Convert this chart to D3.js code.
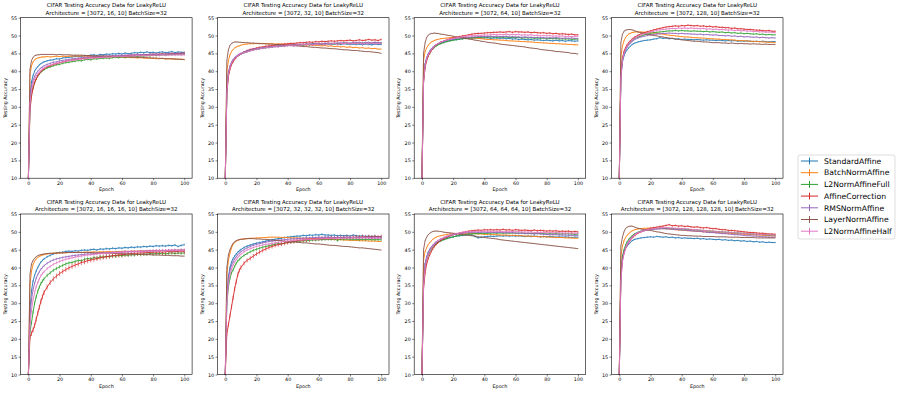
<!DOCTYPE html>
<html>
<head>
<meta charset="utf-8">
<script src="https://cdn.jsdelivr.net/npm/d3@7"></script>
<style>
  body { margin: 0; background: #fff; }
  svg text { font-family: "DejaVu Sans", sans-serif; fill: #000; }
</style>
</head>
<body>
<div id="chart"></div>
<script>
const seriesNames = ['StandardAffine', 'BatchNormAffine', 'L2NormAffineFull', 'AffineCorrection', 'RMSNormAffine', 'LayerNormAffine', 'L2NormAffineHalf']
const colors = ['#1f77b4', '#ff7f0e', '#2ca02c', '#d62728', '#9467bd', '#8c564b', '#e377c2']

const epochs = [0,1,2,3,4,5,6,7,8,9,10,12,14,16,18,20,22,24,26,28,30,32,34,36,38,40,42,44,46,48,50,52,54,56,58,60,62,64,66,68,70,72,74,76,78,80,82,84,86,88,90,92,94,96,98,100]
const xTicks = [0, 20, 40, 60, 80, 100]
const yTicks = [10, 15, 20, 25, 30, 35, 40, 45, 50, 55]

// rows follow seriesNames order
const acc_16_10 = [
  [10,33,37,38.8,40,40.8,41.2,41.8,42.1,42.4,42.6, 42.9,43.1,43.2,43.5,43.4,43.7,43.8,43.9,44.0, 44.1,44.2,44.0,44.4,44.3,44.5,44.6,44.4,44.7, 44.6,44.8,44.7,44.9,44.8,45.0,44.8,45.1,44.9, 45.0,45.2,45.1,45.3,45.2,45.4,45.2,45.3,45.1, 45.3,45.4,45.2,45.3,45.5,45.2,45.4,45.3,45.3],
  [10,39,41.5,42.6,43.2,43.5,43.7,43.8,43.9,44.0,44.0, 44.1,44.0,44.1,44.2,44.1,44.2,44.1,44.2,44.2, 44.3,44.2,44.3,44.2,44.2,44.1,44.2,44.1,44.1, 44.0,44.1,44.0,43.9,44.0,43.9,43.9,43.8,43.9, 43.8,43.8,43.7,43.8,43.7,43.6,43.7,43.6,43.5, 43.5,43.6,43.4,43.5,43.4,43.4,43.3,43.4,43.2],
  [10,30,33.5,35.5,36.8,37.8,38.6,39.2,39.7,40.1,40.4, 40.9,41.2,41.5,41.8,41.9,42.2,42.4,42.5,42.7, 42.8,43.0,42.9,43.2,43.3,43.2,43.5,43.4,43.6, 43.6,43.7,43.6,43.8,43.9,43.8,44.0,43.9,44.1, 44.0,44.2,44.1,44.3,44.2,44.4,44.3,44.5,44.4, 44.5,44.6,44.5,44.7,44.6,44.8,44.7,44.8,44.8],
  [10,29,33,35.2,36.8,37.8,38.7,39.3,39.9,40.3,40.6, 41.2,41.5,41.9,42.1,42.4,42.6,42.8,43.0,43.1, 43.3,43.4,43.5,43.6,43.7,43.8,43.8,43.9,44.0, 44.0,44.1,44.1,44.2,44.2,44.3,44.3,44.4,44.4, 44.5,44.5,44.6,44.5,44.7,44.6,44.7,44.8,44.7, 44.8,44.9,44.8,44.9,45.0,44.9,45.0,45.0,45.1],
  [10,32,35.8,37.5,38.6,39.4,40.0,40.5,40.9,41.2,41.5, 41.9,42.2,42.5,42.6,42.9,43.0,43.2,43.3,43.5, 43.5,43.7,43.7,43.9,43.9,44.0,44.1,44.0,44.2, 44.2,44.3,44.2,44.4,44.3,44.5,44.4,44.5,44.5, 44.6,44.5,44.7,44.6,44.7,44.6,44.8,44.7,44.8, 44.7,44.8,44.8,44.9,44.8,44.9,44.8,44.9,44.8],
  [10,40.5,43.0,43.9,44.3,44.5,44.6,44.6,44.7,44.7,44.7, 44.7,44.7,44.7,44.6,44.7,44.6,44.6,44.6,44.5, 44.5,44.5,44.5,44.4,44.4,44.4,44.3,44.3,44.3, 44.3,44.2,44.2,44.2,44.1,44.1,44.1,44.0,44.0, 44.0,43.9,43.9,43.9,43.8,43.8,43.7,43.7,43.7, 43.6,43.6,43.5,43.5,43.5,43.4,43.4,43.3,43.3],
  [10,31,34.8,36.6,37.8,38.6,39.3,39.8,40.2,40.6,40.9, 41.4,41.7,42.0,42.2,42.4,42.6,42.8,43.0,43.0, 43.2,43.3,43.4,43.5,43.5,43.7,43.7,43.8,43.8, 43.9,44.0,43.9,44.1,44.0,44.2,44.1,44.2,44.2, 44.3,44.2,44.4,44.3,44.4,44.3,44.5,44.4,44.5, 44.4,44.6,44.5,44.5,44.6,44.5,44.6,44.5,44.6]
]
const acc_32_10 = [
  [10,35,39.5,41.2,42.3,43.0,43.6,44.0,44.3,44.6,44.8, 45.2,45.5,45.8,46.0,46.2,46.3,46.5,46.6,46.7, 46.8,46.9,47.0,47.0,47.1,47.2,47.2,47.3,47.3, 47.4,47.3,47.5,47.4,47.6,47.5,47.6,47.5,47.7, 47.6,47.5,47.7,47.6,47.5,47.7,47.6,47.5,47.6, 47.5,47.6,47.4,47.6,47.5,47.4,47.6,47.5,47.5],
  [10,40,43.0,44.6,45.5,46.1,46.5,46.8,47.0,47.1,47.3, 47.5,47.6,47.7,47.7,47.8,47.7,47.8,47.7,47.7, 47.7,47.6,47.7,47.6,47.6,47.5,47.6,47.5,47.5, 47.4,47.4,47.3,47.4,47.2,47.3,47.2,47.1,47.2, 47.0,47.1,46.9,47.0,46.8,46.9,46.7,46.8,46.6, 46.7,46.5,46.6,46.4,46.5,46.3,46.4,46.2,46.2],
  [10,34,39.0,41.0,42.1,42.9,43.5,43.9,44.3,44.6,44.8, 45.2,45.5,45.8,46.0,46.2,46.3,46.5,46.6,46.8, 46.8,47.0,47.0,47.1,47.2,47.2,47.3,47.4,47.3, 47.5,47.4,47.6,47.5,47.7,47.6,47.5,47.7,47.6, 47.8,47.7,47.6,47.8,47.7,47.9,47.8,47.7,47.9, 47.8,47.9,47.8,48.0,47.8,47.9,48.0,47.9,47.9],
  [10,34,38.5,40.5,41.8,42.6,43.3,43.8,44.2,44.6,44.9, 45.4,45.8,46.1,46.3,46.5,46.7,46.8,47.0,47.1, 47.2,47.3,47.4,47.5,47.6,47.7,47.8,47.8,47.9, 48.0,48.0,48.1,48.2,48.1,48.3,48.2,48.4,48.3, 48.4,48.5,48.4,48.5,48.6,48.5,48.6,48.7,48.5, 48.6,48.8,48.6,48.7,48.9,48.7,48.8,48.6,48.9],
  [10,35,39.8,41.5,42.6,43.3,43.8,44.2,44.5,44.8,45.0, 45.4,45.7,45.9,46.2,46.3,46.5,46.6,46.7,46.8, 46.9,47.0,47.1,47.2,47.2,47.3,47.4,47.4,47.5, 47.5,47.6,47.6,47.7,47.7,47.8,47.7,47.8,47.8, 47.9,47.8,47.9,47.9,48.0,47.9,48.0,47.9,48.0, 48.0,48.1,47.9,48.0,48.1,48.0,48.1,48.0,48.0],
  [10,43,46.0,47.2,47.8,48.0,48.2,48.2,48.2,48.1,48.1, 48.0,48.0,47.9,47.9,47.8,47.8,47.7,47.7,47.6, 47.6,47.5,47.5,47.4,47.3,47.3,47.2,47.1,47.1, 47.0,46.9,46.9,46.8,46.7,46.7,46.6,46.5,46.5, 46.4,46.3,46.3,46.2,46.1,46.0,46.0,45.9,45.8, 45.8,45.7,45.6,45.5,45.5,45.4,45.3,45.2,45.0],
  [10,34,39.0,41.0,42.2,43.0,43.5,44.0,44.3,44.6,44.8, 45.2,45.4,45.7,45.9,46.1,46.3,46.4,46.6,46.6, 46.8,46.9,46.8,47.1,47.0,47.2,47.3,47.1,47.4, 47.3,47.5,47.4,47.6,47.3,47.6,47.5,47.7,47.4, 47.7,47.6,47.8,47.5,47.8,47.7,47.9,47.6,47.8, 47.7,47.9,47.6,47.8,47.7,47.9,47.7,47.8,47.8]
]
const acc_64_10 = [
  [10,38,42.0,43.8,44.8,45.6,46.2,46.6,47.0,47.3,47.5, 47.9,48.2,48.4,48.6,48.8,48.9,49.0,49.1,49.2, 49.3,49.2,49.4,49.3,49.4,49.3,49.4,49.2,49.3, 49.3,49.2,49.3,49.1,49.2,49.0,49.1,48.9,49.0, 48.9,48.8,48.9,48.7,48.8,48.7,48.6,48.7,48.6, 48.5,48.7,48.5,48.6,48.4,48.6,48.5,48.4,48.5],
  [10,43,45.5,46.6,47.3,47.8,48.2,48.4,48.6,48.8,48.9, 49.1,49.2,49.3,49.4,49.5,49.5,49.5,49.5,49.4, 49.4,49.3,49.3,49.2,49.1,49.0,48.9,48.9,48.8, 48.8,48.7,48.7,48.6,48.5,48.5,48.4,48.4,48.3, 48.3,48.2,48.2,48.1,48.0,48.0,47.9,47.9,47.8, 47.8,47.7,47.7,47.6,47.6,47.5,47.5,47.4,47.4],
  [10,37,41.5,43.3,44.4,45.2,45.8,46.3,46.7,47.0,47.3, 47.7,48.0,48.3,48.5,48.7,48.8,49.0,49.1,49.2, 49.3,49.4,49.4,49.5,49.5,49.6,49.5,49.6,49.6, 49.5,49.6,49.5,49.6,49.4,49.5,49.4,49.5,49.3, 49.4,49.3,49.4,49.2,49.3,49.2,49.3,49.1,49.2, 49.1,49.2,49.0,49.1,49.0,49.1,48.9,49.0,49.0],
  [10,37,41.0,43.0,44.2,45.0,45.8,46.4,46.9,47.3,47.6, 48.1,48.5,48.8,49.1,49.3,49.5,49.7,49.9,50.0, 50.2,50.4,50.5,50.6,50.6,50.7,50.8,50.8,50.9, 50.9,51.0,50.9,51.0,51.1,50.9,51.1,51.0,51.0, 50.9,51.0,50.8,50.9,50.8,50.7,50.8,50.6,50.7, 50.5,50.6,50.4,50.5,50.4,50.3,50.4,50.2,50.2],
  [10,38,42.0,43.8,44.8,45.6,46.2,46.7,47.1,47.4,47.7, 48.1,48.4,48.7,48.9,49.0,49.2,49.3,49.4,49.5, 49.5,49.6,49.6,49.7,49.7,49.8,49.7,49.8,49.7, 49.8,49.7,49.7,49.8,49.6,49.7,49.6,49.6,49.5, 49.6,49.5,49.5,49.4,49.5,49.4,49.4,49.3,49.4, 49.3,49.4,49.3,49.2,49.3,49.2,49.3,49.2,49.2],
  [10,45,48.0,49.5,50.1,50.4,50.6,50.6,50.7,50.6,50.6, 50.4,50.3,50.1,50.0,49.8,49.6,49.5,49.3,49.2, 49.0,48.9,48.7,48.6,48.4,48.3,48.1,48.0,47.9, 47.8,47.6,47.5,47.4,47.3,47.2,47.1,47.0,46.9, 46.8,46.6,46.5,46.4,46.3,46.1,46.0,45.9,45.8, 45.7,45.5,45.5,45.4,45.3,45.2,45.0,45.0,44.8],
  [10,37,41.5,43.5,44.6,45.4,46.0,46.6,47.0,47.4,47.7, 48.1,48.5,48.8,49.0,49.2,49.4,49.5,49.7,49.8, 49.9,50.0,49.9,50.1,50.0,50.2,50.1,50.2,50.3, 50.2,50.3,50.2,50.4,50.2,50.3,50.2,50.3,50.1, 50.2,50.1,50.2,50.0,50.1,49.9,50.0,49.9,50.0, 49.8,49.9,49.8,49.9,49.7,49.8,49.7,49.8,49.8]
]
const acc_128_10 = [
  [10,38,42.5,44.3,45.3,46.0,46.5,47.0,47.4,47.7,47.9, 48.2,48.4,48.6,48.7,48.8,49.0,49.1,49.4,49.2, 49.3,49.1,49.2,49.0,49.1,48.9,49.0,48.9,48.9, 48.8,48.9,48.8,48.7,48.8,48.7,48.7,48.6,48.7, 48.6,48.5,48.6,48.5,48.6,48.4,48.5,48.4,48.5, 48.4,48.3,48.4,48.3,48.4,48.3,48.2,48.3,48.3],
  [10,44,47.0,48.5,49.4,50.0,50.4,50.6,50.8,50.9,51.0, 51.0,51.0,50.9,50.9,50.8,50.7,50.6,50.5,50.4, 50.2,50.1,50.0,49.9,49.8,49.7,49.6,49.6,49.5, 49.4,49.4,49.3,49.3,49.2,49.1,49.1,49.0,49.0, 48.9,48.9,48.8,48.8,48.7,48.6,48.6,48.5,48.5, 48.4,48.4,48.3,48.3,48.2,48.2,48.1,48.1,48.0],
  [10,39,43.5,45.2,46.3,47.0,47.6,48.1,48.5,48.9,49.2, 49.6,49.9,50.2,50.4,50.6,50.8,50.9,51.0,51.1, 51.2,51.3,51.3,51.4,51.3,51.4,51.3,51.3,51.2, 51.3,51.2,51.2,51.1,51.2,51.0,51.1,51.0,50.9, 51.0,50.8,50.9,50.7,50.8,50.6,50.7,50.5,50.6, 50.5,50.4,50.5,50.3,50.4,50.2,50.3,50.2,50.2],
  [10,39,43.5,45.5,46.6,47.4,48.0,48.5,48.9,49.3,49.6, 50.1,50.5,50.8,51.1,51.3,51.6,51.8,52.0,52.2, 52.4,52.5,52.6,52.7,52.6,52.8,52.7,52.9,52.8, 52.7,52.8,52.6,52.7,52.5,52.6,52.4,52.5,52.3, 52.3,52.2,52.2,52.0,52.1,51.9,51.9,51.8,51.7, 51.7,51.6,51.5,51.5,51.4,51.3,51.4,51.2,51.2],
  [10,38,43.0,44.8,45.9,46.7,47.3,47.8,48.2,48.6,48.9, 49.3,49.6,49.8,50.0,50.2,50.3,50.4,50.5,50.6, 50.6,50.7,50.6,50.6,50.5,50.6,50.5,50.5,50.4, 50.4,50.3,50.4,50.2,50.3,50.2,50.1,50.2,50.0, 50.0,49.9,50.0,49.8,49.9,49.7,49.8,49.6,49.7, 49.6,49.5,49.6,49.4,49.5,49.4,49.3,49.4,49.3],
  [10,48,50.3,51.2,51.5,51.6,51.7,51.7,51.6,51.5,51.3, 51.0,50.8,50.6,50.4,50.2,50.0,49.9,49.7,49.6, 49.4,49.3,49.2,49.0,48.9,48.8,48.7,48.6,48.5, 48.4,48.4,48.3,48.2,48.2,48.1,48.0,48.0,48.0, 47.9,47.9,47.8,47.9,47.8,47.7,47.8,47.7,47.7, 47.6,47.7,47.6,47.6,47.5,47.6,47.5,47.5,47.5],
  [10,38,43.0,45.0,46.2,47.0,47.7,48.2,48.6,49.0,49.3, 49.8,50.2,50.5,50.8,51.0,51.2,51.4,51.6,51.7, 51.8,51.9,52.0,51.9,52.1,52.0,52.1,52.0,52.1, 52.0,52.0,51.9,52.0,51.8,51.9,51.7,51.8,51.6, 51.7,51.6,51.5,51.6,51.4,51.5,51.3,51.4,51.2, 51.3,51.1,51.2,51.0,51.1,50.9,51.0,50.9,50.8]
]
const acc_16_16_16_10 = [
  [10,28,33.5,36.2,37.8,39.0,40.0,40.8,41.5,42.0,42.4, 43.0,43.4,43.8,44.0,44.2,44.3,44.5,44.6,44.5, 44.7,44.6,44.8,44.9,44.8,45.0,45.1,44.9,45.2, 45.1,45.3,45.2,45.4,45.3,45.5,45.4,45.6,45.5, 45.7,45.6,45.8,45.7,45.9,45.8,46.0,45.9,46.1, 46.0,46.1,46.0,46.2,46.1,46.3,45.9,46.2,46.4],
  [10,35,39.0,40.8,41.8,42.4,42.8,43.1,43.3,43.5,43.6, 43.8,43.9,44.0,44.0,44.1,44.1,44.1,44.2,44.2, 44.2,44.3,44.2,44.3,44.3,44.3,44.4,44.3,44.4, 44.4,44.4,44.5,44.4,44.5,44.5,44.5,44.6,44.5, 44.6,44.6,44.6,44.7,44.6,44.7,44.7,44.7,44.8, 44.7,44.8,44.7,44.8,44.8,44.8,44.8,44.9,44.8],
  [10,22,24.5,27.5,30.0,31.8,33.3,34.5,35.5,36.2,36.8, 37.8,38.5,39.2,39.7,40.2,40.6,41.0,41.3,41.4, 41.7,42.0,41.9,42.3,42.5,42.4,42.8,42.6,43.0, 42.9,43.1,43.0,43.3,43.2,43.4,43.3,43.5,43.4, 43.6,43.5,43.7,43.6,43.8,43.7,43.9,43.8,43.9, 43.9,44.0,43.8,44.0,44.1,43.9,44.1,44.0,44.1],
  [10,20.5,21.5,22.5,23.8,25.5,27.2,28.8,30.5,31.8,33.0, 34.5,35.8,36.8,37.6,38.3,38.9,39.4,39.9,40.3, 40.7,41.0,41.4,41.6,41.9,42.1,42.3,42.5,42.7, 42.9,43.0,43.2,43.3,43.4,43.5,43.6,43.7,43.8, 43.9,44.0,44.0,44.1,44.1,44.2,44.2,44.3,44.3, 44.4,44.3,44.4,44.5,44.4,44.5,44.5,44.6,44.5],
  [10,26,31.0,33.8,35.6,37.0,38.0,38.8,39.5,40.0,40.5, 41.2,41.7,42.1,42.4,42.6,42.8,43.0,43.1,43.3, 43.4,43.5,43.6,43.7,43.8,43.8,43.9,44.0,44.0, 44.1,44.1,44.2,44.2,44.3,44.3,44.3,44.4,44.4, 44.5,44.5,44.5,44.6,44.6,44.6,44.7,44.7,44.7, 44.7,44.8,44.8,44.8,44.8,44.9,44.8,44.9,44.9],
  [10,38,41.0,42.0,42.6,43.0,43.3,43.5,43.6,43.7,43.8, 43.9,44.0,44.0,44.1,44.1,44.1,44.2,44.2,44.2, 44.2,44.2,44.2,44.2,44.2,44.2,44.1,44.1,44.1, 44.1,44.0,44.0,44.0,43.9,43.9,43.9,43.8,43.8, 43.8,43.7,43.7,43.7,43.6,43.6,43.6,43.5,43.5, 43.5,43.4,43.4,43.4,43.3,43.3,43.3,43.2,43.2],
  [10,24,28.0,31.0,33.0,34.6,35.8,36.8,37.7,38.3,38.8, 39.7,40.3,40.9,41.3,41.7,42.0,42.3,42.5,42.7, 42.9,43.1,43.2,43.4,43.5,43.6,43.7,43.8,43.9, 44.0,44.0,44.1,44.1,44.2,44.2,44.3,44.3,44.4, 44.4,44.4,44.5,44.5,44.5,44.6,44.6,44.6,44.7, 44.7,44.7,44.7,44.8,44.8,44.8,44.8,44.8,44.9]
]
const acc_32_32_32_10 = [
  [10,32,37.5,40.0,41.5,42.5,43.2,43.8,44.3,44.7,45.0, 45.6,46.0,46.3,46.6,46.8,47.0,47.2,47.4,47.6, 47.8,47.9,48.1,48.2,48.4,48.5,48.6,48.7,48.8, 48.8,49.0,48.9,49.1,49.0,49.2,49.1,49.3,49.1, 49.1,49.0,49.1,48.9,49.0,48.9,49.0,48.8,49.1, 48.9,48.8,48.9,48.7,48.8,48.7,48.8,48.6,48.7],
  [10,38,42.0,44.0,45.5,46.5,47.0,47.4,47.6,47.8,47.9, 48.0,48.1,48.2,48.2,48.3,48.3,48.4,48.4,48.5, 48.5,48.5,48.5,48.4,48.4,48.4,48.3,48.3,48.3, 48.2,48.2,48.2,48.1,48.1,48.1,48.0,48.0,48.0, 47.9,47.9,47.8,47.8,47.8,47.7,47.7,47.6,47.6, 47.6,47.5,47.5,47.5,47.4,47.4,47.4,47.3,47.3],
  [10,30,34.5,37.0,38.5,39.3,40.3,41.2,41.8,42.3,42.7, 43.4,43.9,44.4,44.8,45.1,45.4,45.7,45.9,46.1, 46.3,46.5,46.7,46.6,46.9,47.0,47.1,47.2,47.3, 47.4,47.5,47.5,47.6,47.7,47.7,47.8,47.8,47.9, 47.9,47.9,48.0,47.6,48.0,47.9,48.0,47.9,47.9, 47.9,47.8,47.9,47.8,47.9,47.8,47.8,47.8,47.8],
  [10,21.5,24.0,26.5,29.0,31.5,34.0,36.0,38.0,39.2,40.0, 41.2,42.0,42.6,43.2,43.8,44.3,44.8,45.2,45.6, 45.9,46.2,46.4,46.6,46.8,47.0,47.2,47.3,47.5, 47.6,47.7,47.8,47.9,48.0,48.0,48.1,48.2,48.2, 48.3,48.3,48.3,48.4,48.4,48.4,48.5,48.4,48.5, 48.5,48.5,48.6,48.5,48.6,48.5,48.6,48.5,48.6],
  [10,32,37.0,39.3,40.6,41.6,42.4,43.0,43.6,44.0,44.4, 45.0,45.5,45.9,46.2,46.5,46.7,46.9,47.1,47.3, 47.4,47.5,47.7,47.7,47.8,47.9,48.0,48.0,48.1, 48.2,48.2,48.3,48.3,48.4,48.4,48.5,48.4,48.5, 48.5,48.5,48.4,48.5,48.4,48.5,48.4,48.4,48.4, 48.4,48.3,48.4,48.3,48.4,48.3,48.3,48.3,48.3],
  [10,40,43.5,45.0,46.0,46.8,47.2,47.5,47.7,47.8,47.9, 48.0,48.1,48.1,48.1,48.0,48.0,47.9,47.9,47.8, 47.7,47.6,47.6,47.5,47.4,47.3,47.2,47.2,47.1, 47.0,46.9,46.9,46.8,46.7,46.6,46.6,46.5,46.4, 46.3,46.2,46.2,46.1,46.0,45.9,45.9,45.8,45.7, 45.6,45.5,45.5,45.4,45.3,45.2,45.1,45.0,44.9],
  [10,30,35.5,38.0,39.5,40.6,41.5,42.2,42.8,43.3,43.7, 44.4,44.9,45.3,45.6,45.9,46.1,46.3,46.5,46.6, 46.8,46.9,47.1,47.2,47.3,47.4,47.5,47.6,47.7, 47.7,47.8,47.8,47.9,47.9,48.0,48.0,48.1,48.1, 48.1,48.2,48.1,48.2,48.2,48.2,48.3,48.2,48.3, 48.3,48.2,48.3,48.3,48.3,48.2,48.3,48.3,48.3]
]
const acc_64_64_64_10 = [
  [10,36,41.0,43.0,44.2,45.0,45.6,46.1,46.5,46.8,47.1, 47.6,47.9,48.2,48.4,48.6,48.8,48.9,49.0,49.1, 49.2,49.1,48.7,48.3,48.5,48.6,48.7,48.8,48.7, 48.8,48.9,48.8,48.9,48.8,48.9,48.8,48.9,48.8, 48.7,48.8,48.7,48.8,48.7,48.6,48.7,48.6,48.7, 48.6,48.5,48.6,48.5,48.6,48.5,48.4,48.5,48.5],
  [10,42,44.5,45.6,46.4,47.0,47.5,47.9,48.2,48.5,48.7, 48.9,49.1,49.3,49.4,49.5,49.5,49.6,49.6,49.6, 49.5,49.5,49.5,49.4,49.4,49.3,49.3,49.3,49.2, 49.2,49.1,49.1,49.1,49.0,49.0,49.0,48.9,48.9, 48.8,48.8,48.8,48.7,48.7,48.6,48.6,48.6,48.5, 48.5,48.4,48.4,48.4,48.3,48.3,48.3,48.2,48.2],
  [10,35,40.0,42.2,43.5,44.4,45.1,45.7,46.2,46.6,46.9, 47.4,47.8,48.1,48.4,48.6,48.8,49.0,49.1,49.2, 49.4,49.4,49.5,49.5,49.6,49.5,49.6,49.6,49.7, 49.6,49.7,49.6,49.7,49.6,49.7,49.6,49.6,49.7, 49.6,49.5,49.6,49.5,49.6,49.5,49.5,49.4,49.5, 49.4,49.5,49.4,49.4,49.5,49.4,49.4,49.3,49.4],
  [10,34,38.5,41.0,42.5,43.6,44.5,45.3,45.9,46.4,46.9, 47.6,48.1,48.5,48.9,49.2,49.4,49.6,49.8,50.0, 50.2,50.3,50.4,50.5,50.4,50.6,50.5,50.6,50.5, 50.6,50.5,50.7,50.5,50.6,50.4,50.6,50.5,50.4, 50.5,50.4,50.3,50.5,50.3,50.4,50.3,50.2,50.3, 50.2,50.3,50.1,50.2,50.1,50.2,50.0,50.1,50.0],
  [10,36,41.0,43.0,44.2,45.1,45.8,46.3,46.8,47.2,47.5, 48.0,48.4,48.7,49.0,49.2,49.4,49.5,49.6,49.7, 49.8,49.8,49.9,49.8,49.9,49.9,49.8,49.9,49.8, 49.8,49.9,49.8,49.7,49.8,49.7,49.7,49.6,49.6, 49.5,49.6,49.5,49.4,49.5,49.4,49.3,49.3,49.2, 49.2,49.2,49.1,49.1,49.1,49.0,49.0,49.0,49.0],
  [10,45,47.5,48.5,49.2,49.6,49.9,50.1,50.2,50.2,50.2, 50.1,49.9,49.8,49.7,49.6,49.5,49.3,49.2,49.1, 49.0,48.9,48.8,48.6,48.5,48.4,48.3,48.2,48.1, 48.0,47.8,47.7,47.6,47.5,47.4,47.3,47.2,47.1, 47.0,46.9,46.8,46.7,46.6,46.5,46.4,46.3,46.2, 46.1,46.0,45.9,45.8,45.7,45.6,45.5,45.4,45.3],
  [10,35,40.0,42.3,43.7,44.6,45.4,46.0,46.6,47.0,47.4, 48.0,48.4,48.8,49.1,49.3,49.5,49.7,49.9,50.0, 50.1,50.0,50.2,50.1,50.2,50.1,50.2,50.1,50.2, 50.1,50.2,50.0,50.1,50.0,50.1,50.0,50.1,49.9, 50.0,49.9,50.0,49.8,49.9,49.8,49.9,49.7,49.8, 49.7,49.8,49.7,49.7,49.6,49.7,49.6,49.6,49.6]
]
const acc_128_128_128_10 = [
  [10,38,43.0,44.5,45.4,46.0,46.5,47.0,47.4,47.7,47.9, 48.1,48.3,48.4,48.5,48.6,48.5,48.7,48.6,48.5, 48.6,48.4,48.5,48.3,48.4,48.2,48.3,48.2,48.2, 48.1,48.2,48.0,48.1,47.9,48.0,47.9,47.8,47.9, 47.7,47.8,47.6,47.7,47.5,47.6,47.4,47.5,47.3, 47.4,47.2,47.3,47.1,47.2,47.0,47.1,47.0,47.0],
  [10,43,46.0,47.5,48.4,49.0,49.5,49.9,50.2,50.4,50.6, 50.8,50.9,51.0,51.0,51.1,51.0,51.0,51.0,50.9, 50.9,50.8,50.7,50.6,50.5,50.5,50.4,50.3,50.3, 50.2,50.1,50.1,50.0,50.0,49.9,49.9,49.8,49.8, 49.7,49.6,49.6,49.5,49.5,49.4,49.4,49.3,49.3, 49.2,49.2,49.1,49.1,49.0,49.0,48.9,48.9,48.8],
  [10,38,43.0,45.0,46.3,47.2,47.9,48.4,48.8,49.2,49.5, 49.9,50.2,50.4,50.6,50.7,50.8,50.9,51.0,51.0, 51.0,51.0,50.9,50.9,50.8,50.8,50.7,50.7,50.6, 50.5,50.5,50.4,50.4,50.3,50.2,50.2,50.1,50.0, 50.0,49.9,49.9,49.8,49.7,49.7,49.6,49.6,49.5, 49.4,49.4,49.3,49.3,49.2,49.2,49.1,49.1,49.0],
  [10,37,42.0,44.0,45.3,46.2,47.0,47.6,48.2,48.6,49.0, 49.6,50.0,50.4,50.7,51.0,51.2,51.3,51.5,51.6, 51.8,52.0,51.7,51.8,51.6,51.7,51.5,51.6,51.4, 51.3,51.4,51.2,51.1,51.2,51.0,50.9,50.9,50.7, 50.6,50.6,50.4,50.4,50.3,50.2,50.1,50.0,49.9, 49.8,49.8,49.7,49.6,49.6,49.5,49.4,49.4,49.3],
  [10,37,42.0,44.2,45.6,46.6,47.4,48.0,48.5,48.9,49.3, 49.8,50.1,50.3,50.5,50.6,50.7,50.8,50.8,50.9, 50.8,50.8,50.7,50.7,50.6,50.5,50.5,50.4,50.3, 50.2,50.2,50.1,50.0,49.9,49.8,49.8,49.7,49.6, 49.5,49.5,49.4,49.3,49.2,49.2,49.1,49.0,48.9, 48.9,48.8,48.8,48.7,48.6,48.6,48.5,48.5,48.5],
  [10,46,48.5,50.0,50.9,51.3,51.5,51.6,51.6,51.5,51.3, 51.0,50.8,50.6,50.5,50.4,50.2,50.0,49.9,49.7, 49.5,49.4,49.3,49.2,49.1,49.0,49.0,48.9,48.9, 48.8,48.8,48.8,48.7,48.7,48.7,48.7,48.6,48.6, 48.6,48.6,48.5,48.5,48.5,48.5,48.4,48.4,48.4, 48.4,48.4,48.3,48.3,48.3,48.3,48.3,48.3,48.3],
  [10,36,41.5,43.8,45.2,46.3,47.1,47.8,48.3,48.8,49.2, 49.7,50.1,50.4,50.6,50.8,50.9,51.0,51.1,51.2, 51.2,51.1,51.1,51.0,51.0,50.9,50.9,50.8,50.7, 50.6,50.6,50.5,50.4,50.3,50.3,50.2,50.1,50.0, 50.0,49.9,49.9,49.8,49.7,49.7,49.6,49.5,49.5, 49.4,49.4,49.3,49.3,49.2,49.2,49.2,49.1,49.1]
]

// half-length of the error bars, one per series
const err_16_10 = [0.25, 0.15, 0.3, 0.25, 0.25, 0.1, 0.3]
const err_32_10 = [0.25, 0.15, 0.25, 0.25, 0.25, 0.1, 0.3]
const err_64_10 = [0.25, 0.15, 0.25, 0.25, 0.2, 0.1, 0.25]
const err_128_10 = [0.2, 0.15, 0.2, 0.25, 0.2, 0.1, 0.25]
const err_16_16_16_10 = [0.3, 0.15, 0.5, 0.7, 0.35, 0.1, 0.4]
const err_32_32_32_10 = [0.3, 0.15, 0.4, 0.6, 0.3, 0.1, 0.3]
const err_64_64_64_10 = [0.25, 0.15, 0.25, 0.3, 0.25, 0.1, 0.25]
const err_128_128_128_10 = [0.2, 0.15, 0.2, 0.25, 0.2, 0.1, 0.25]

const panels = [
  {arch: '[3072, 16, 10]', acc: acc_16_10, err: err_16_10},
  {arch: '[3072, 32, 10]', acc: acc_32_10, err: err_32_10},
  {arch: '[3072, 64, 10]', acc: acc_64_10, err: err_64_10},
  {arch: '[3072, 128, 10]', acc: acc_128_10, err: err_128_10},
  {arch: '[3072, 16, 16, 16, 10]', acc: acc_16_16_16_10, err: err_16_16_16_10},
  {arch: '[3072, 32, 32, 32, 10]', acc: acc_32_32_32_10, err: err_32_32_32_10},
  {arch: '[3072, 64, 64, 64, 10]', acc: acc_64_64_64_10, err: err_64_64_64_10},
  {arch: '[3072, 128, 128, 128, 10]', acc: acc_128_128_128_10, err: err_128_128_128_10}
]

const width = 897
const height = 394
const plotLefts = [20.6, 217.5, 414.2, 611.5]
const plotTops = [17.7, 214]
const pw = 171.5
const ph = 160.5

const svg = d3.select('#chart').append('svg')
  .attr('width', width)
  .attr('height', height)
  .attr('viewBox', `0 0 ${width} ${height}`)

const x = d3.scaleLinear().domain([-5, 105]).range([0, pw])
const y = d3.scaleLinear().domain([10, 55]).range([ph, 0])

const line = d3.line()
  .x(d => x(d[0]))
  .y(d => y(d[1]))

panels.forEach((p, pi) => {
  const col = pi % 4
  const row = Math.floor(pi / 4)
  const g = svg.append('g')
    .attr('transform', `translate(${plotLefts[col]},${plotTops[row]})`)

  g.append('clipPath').attr('id', 'clip' + pi)
    .append('rect').attr('width', pw).attr('height', ph)

  const xAxis = g.append('g')
    .attr('transform', `translate(0,${ph})`)
    .call(d3.axisBottom(x).tickValues(xTicks).tickSize(2).tickPadding(1.5))
  const yAxis = g.append('g')
    .call(d3.axisLeft(y).tickValues(yTicks).tickSize(2).tickPadding(1.5))
  ;[xAxis, yAxis].forEach(a => {
    a.select('.domain').remove()
    a.selectAll('line').attr('stroke', '#000').attr('stroke-width', 0.5)
    a.selectAll('text').attr('font-size', 4.8).attr('font-family', '"DejaVu Sans", sans-serif')
  })

  const plot = g.append('g').attr('clip-path', `url(#clip${pi})`)
  p.acc.forEach((vals, si) => {
    const pts = epochs.map((e, i) => [e, vals[i]])
    const s = plot.append('g')
    s.append('path')
      .datum(pts)
      .attr('d', line)
      .attr('fill', 'none')
      .attr('stroke', colors[si])
      .attr('stroke-width', 0.9)
      .attr('stroke-linejoin', 'round')
    s.selectAll('line.err')
      .data(pts)
      .join('line')
      .attr('class', 'err')
      .attr('x1', d => x(d[0]))
      .attr('x2', d => x(d[0]))
      .attr('y1', d => y(d[1] - p.err[si]))
      .attr('y2', d => y(d[1] + p.err[si]))
      .attr('stroke', colors[si])
      .attr('stroke-width', 0.6)
  })

  g.append('rect')
    .attr('width', pw)
    .attr('height', ph)
    .attr('fill', 'none')
    .attr('stroke', '#000')
    .attr('stroke-width', 0.6)

  g.append('text')
    .attr('x', pw / 2)
    .attr('y', -10.4)
    .attr('text-anchor', 'middle')
    .attr('font-size', 5.5)
    .text('CIFAR Testing Accuracy Data for LeakyReLU')
  g.append('text')
    .attr('x', pw / 2)
    .attr('y', -2.8)
    .attr('text-anchor', 'middle')
    .attr('font-size', 5.5)
    .text(`Architecture = ${p.arch} BatchSize=32`)

  g.append('text')
    .attr('x', pw / 2)
    .attr('y', ph + 13)
    .attr('text-anchor', 'middle')
    .attr('font-size', 4.8)
    .text('Epoch')
  g.append('text')
    .attr('transform', `translate(-13.8,${ph / 2}) rotate(-90)`)
    .attr('text-anchor', 'middle')
    .attr('font-size', 4.8)
    .text('Testing Accuracy')
})

// legend
const legend = svg.append('g').attr('transform', 'translate(798,155)')
legend.append('rect')
  .attr('width', 97)
  .attr('height', 84)
  .attr('rx', 2)
  .attr('fill', '#fff')
  .attr('stroke', '#d0d0d0')
  .attr('stroke-width', 0.7)
const item = legend.selectAll('g.item')
  .data(seriesNames)
  .join('g')
  .attr('class', 'item')
  .attr('transform', (d, i) => `translate(0,${6 + i * 11.7})`)
item.append('line')
  .attr('x1', 3).attr('x2', 20)
  .attr('stroke', (d, i) => colors[i])
  .attr('stroke-width', 1)
item.append('line')
  .attr('x1', 11.5).attr('x2', 11.5)
  .attr('y1', -3.4).attr('y2', 3.4)
  .attr('stroke', (d, i) => colors[i])
  .attr('stroke-width', 1)
item.append('text')
  .attr('x', 26)
  .attr('dy', '0.35em')
  .attr('font-size', 7.7)
  .text(d => d)
</script>
</body>
</html>
